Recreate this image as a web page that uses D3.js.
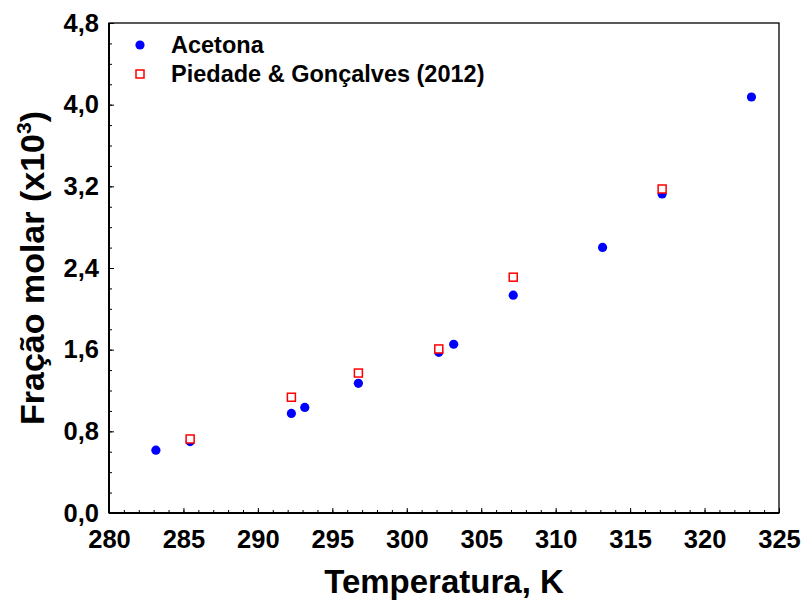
<!DOCTYPE html>
<html>
<head>
<meta charset="utf-8">
<script src="https://cdn.jsdelivr.net/npm/d3@7"></script>
<style>
  body { margin: 0; background: #fff; }
  svg { display: block; }
  text { font-family: "Liberation Sans", Arial, sans-serif; font-weight: bold; fill: #000; }
</style>
</head>
<body>
<div id="chart"></div>
<script>
// Acetona (this work)
const tempAcetona = [283.15, 285.45, 292.25, 293.15, 296.75, 302.15, 303.15, 307.15, 313.15, 317.15, 323.15];
const fracAcetona = [0.615, 0.70, 0.975, 1.034, 1.27, 1.574, 1.653, 2.134, 2.602, 3.125, 4.075];

// Piedade & Gonçalves (2012)
const tempPiedade = [285.45, 292.25, 296.75, 302.15, 307.15, 317.15];
const fracPiedade = [0.725, 1.134, 1.371, 1.607, 2.31, 3.174];

const xTicks = [280, 285, 290, 295, 300, 305, 310, 315, 320, 325];
const yTicks = [0, 0.8, 1.6, 2.4, 3.2, 4.0, 4.8];
const seriesNames = ["Acetona", "Piedade & Gonçalves (2012)"];

const width = 805, height = 600;
const margin = { top: 23, right: 26, bottom: 87, left: 109 };

const svg = d3.select("#chart").append("svg")
    .attr("width", width)
    .attr("height", height);

const x = d3.scaleLinear().domain([280, 325]).range([margin.left, width - margin.right]);
const y = d3.scaleLinear().domain([0, 4.8]).range([height - margin.bottom, margin.top]);

const fmt = d => d3.format(".1f")(d).replace(".", ",");

// frame (top and right)
svg.append("rect")
    .attr("x", x(280)).attr("y", y(4.8))
    .attr("width", x(325) - x(280)).attr("height", y(0) - y(4.8))
    .attr("fill", "none").attr("stroke", "#000").attr("stroke-width", 1.3);

// minor ticks
svg.append("g")
    .attr("transform", `translate(0,${y(0)})`)
    .call(d3.axisBottom(x).tickValues(d3.range(280, 326, 1)).tickSize(-3).tickFormat(""))
    .call(g => g.select(".domain").remove());
svg.append("g")
    .attr("transform", `translate(${x(280)},0)`)
    .call(d3.axisLeft(y).tickValues(d3.range(0, 4.81, 0.2)).tickSize(-3).tickFormat(""))
    .call(g => g.select(".domain").remove());

// major axes
const xAxis = svg.append("g")
    .attr("transform", `translate(0,${y(0)})`)
    .call(d3.axisBottom(x).tickValues(xTicks).tickSize(-5).tickPadding(17).tickFormat(d3.format("d")));
xAxis.select(".domain").attr("stroke-width", 2).attr("d", `M${x(280)},0H${x(325)}`);
xAxis.selectAll("text").attr("font-size", 25.5).attr("font-family", null);

const yAxis = svg.append("g")
    .attr("transform", `translate(${x(280)},0)`)
    .call(d3.axisLeft(y).tickValues(yTicks).tickSize(-5).tickPadding(10).tickFormat(fmt));
yAxis.select(".domain").attr("stroke-width", 2).attr("d", `M0,${y(0)}V${y(4.8)}`);
yAxis.selectAll("text").attr("font-size", 25.5).attr("font-family", null);

svg.selectAll(".tick line").attr("stroke", "#000");

// series
const acetona = tempAcetona.map((t, i) => ({ t, v: fracAcetona[i] }));
const piedade = tempPiedade.map((t, i) => ({ t, v: fracPiedade[i] }));

svg.append("g").selectAll("circle")
    .data(acetona)
    .enter().append("circle")
    .attr("cx", d => x(d.t))
    .attr("cy", d => y(d.v))
    .attr("r", 4.6)
    .attr("fill", "#0000ff");

const sq = 8;
svg.append("g").selectAll("rect")
    .data(piedade)
    .enter().append("rect")
    .attr("x", d => x(d.t) - sq / 2)
    .attr("y", d => y(d.v) - sq / 2)
    .attr("width", sq).attr("height", sq)
    .attr("fill", "#fff")
    .attr("stroke", "#ff0000")
    .attr("stroke-width", 1.5);

// legend
const legend = svg.append("g");
legend.append("circle").attr("cx", 140).attr("cy", 45).attr("r", 4.6).attr("fill", "#0000ff");
legend.append("rect").attr("x", 140 - sq / 2).attr("y", 74 - sq / 2).attr("width", sq).attr("height", sq)
    .attr("fill", "#fff").attr("stroke", "#ff0000").attr("stroke-width", 1.5);
legend.append("text").attr("x", 171).attr("y", 53).attr("font-size", 23.5).text(seriesNames[0]);
legend.append("text").attr("x", 171).attr("y", 82).attr("font-size", 23.5).text(seriesNames[1]);

// axis titles
svg.append("text")
    .attr("x", (x(280) + x(325)) / 2)
    .attr("y", 593)
    .attr("text-anchor", "middle")
    .attr("font-size", 33)
    .text("Temperatura, K");

const yTitle = svg.append("text")
    .attr("transform", `translate(44,${(y(0) + y(4.8)) / 2}) rotate(-90)`)
    .attr("text-anchor", "middle")
    .attr("font-size", 34);
yTitle.append("tspan").text("Fração molar (x10");
yTitle.append("tspan").attr("font-size", 21).attr("dy", -13).text("3");
yTitle.append("tspan").attr("dy", 13).text(")");
</script>
</body>
</html>
